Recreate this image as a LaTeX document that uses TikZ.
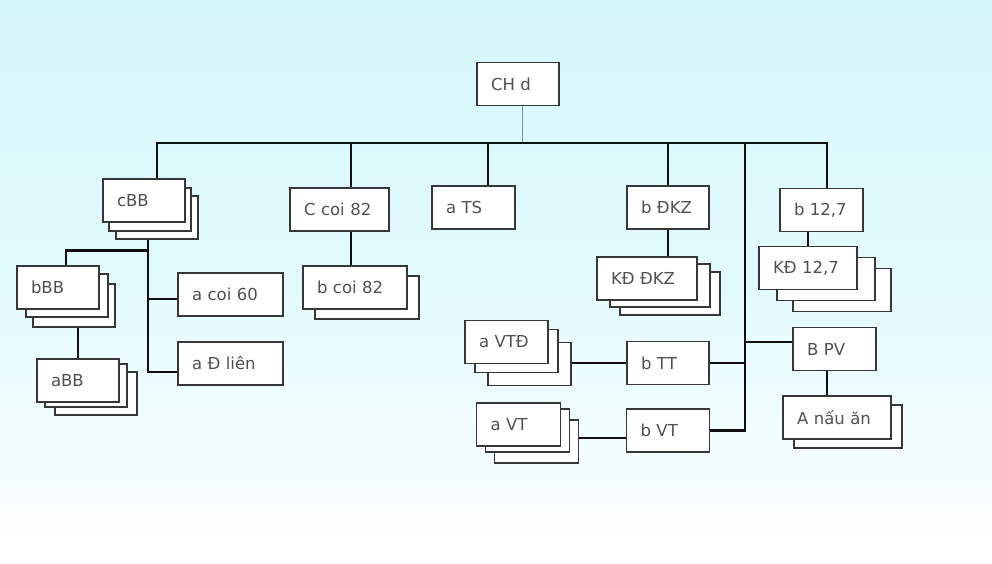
\documentclass[tikz,border=0pt]{standalone}
\usepackage{fontspec}
\newfontfamily\boxfont{DejaVu Sans}
\usetikzlibrary{positioning,shadows}
\definecolor{bgtop}{RGB}{212,247,251}
\definecolor{bgmid}{RGB}{226,250,253}
\definecolor{boxline}{RGB}{55,55,55}
\definecolor{boxtext}{RGB}{80,80,80}
\definecolor{linkcol}{RGB}{15,15,15}
\definecolor{stemcol}{RGB}{110,150,165}
\pgfdeclarelayer{back}
\pgfdeclarelayer{wires}
\pgfsetlayers{back,wires,main}
\begin{document}
\begin{tikzpicture}[x=1pt,y=1pt,
    pile/.style n args={4}{copy shadow={shadow xshift=#3,shadow yshift=#4,draw=boxline,fill=white,line width=1.4pt},
                           copy shadow={shadow xshift=#1,shadow yshift=#2,draw=boxline,fill=white,line width=1.4pt}},
    pair/.style 2 args={copy shadow={shadow xshift=#1,shadow yshift=#2,draw=boxline,fill=white,line width=1.4pt}}]
  \tikzstyle{box}=[draw=boxline,fill=white,line width=1.4pt,minimum height=43pt,inner xsep=14pt,
                   text width=54pt,align=left,text=boxtext,font=\boxfont\fontsize{16.5}{20}\selectfont]
  \tikzstyle{link}=[draw=linkcol,line width=2.8pt]
  \tikzstyle{stem}=[draw=stemcol,line width=1pt]
  \begin{pgfonlayer}{back}
    \shade[top color=bgtop,bottom color=white,middle color=bgmid] (0,0) rectangle (992,563);
  \end{pgfonlayer}
  \useasboundingbox (0,0) rectangle (992,563);

  \node[box]    (CHd) at (518,479)                 {CH d};
  \node[box,pile={6pt}{-9pt}{13pt}{-17pt}]     (cBB) at (144,362.5)          {cBB};
  \node[box,pile={9pt}{-8pt}{16pt}{-18pt}]     (bBB)[below of=cBB, node distance=87pt, xshift=-86pt]   {bBB};
  \node[box,pile={8pt}{-5pt}{18pt}{-13pt}]     (aBB)[below of=bBB, node distance=93pt, xshift=20pt]    {aBB};
  \node[box,text width=77pt]    (acoi)[below of=cBB, node distance=94pt, xshift=86.5pt]  {a coi 60};
  \node[box,text width=77pt]    (aDl)[below of=acoi, node distance=69pt]                 {a Đ liên};
  \node[box,text width=71pt]    (Ccoi) at (339.5,353.5)                                  {C coi 82};
  \node[box,text width=76pt,pair={12pt}{-10pt}]    (bcoi)[below of=Ccoi, node distance=78pt, xshift=15.5pt]  {b coi 82};
  \node[box,text width=55pt]    (aTS) at (473.5,355.5)                                   {a TS};
  \node[box]    (bDKZ) at (668,355.5)                                                    {b ĐKZ};
  \node[box,text width=72pt,pile={13pt}{-7pt}{23pt}{-15pt}]    (KDDKZ)[below of=bDKZ, node distance=71pt, xshift=-21pt]  {KĐ ĐKZ};
  \node[box]    (bTT)[below of=KDDKZ, node distance=84.5pt, xshift=21pt]                 {b TT};
  \node[box,text width=55pt]    (bVT)[below of=bTT, node distance=67.5pt]                {b VT};
  \node[box,text width=55pt,pile={10pt}{-9pt}{23pt}{-22pt}]    (aVTD)[left of=bTT, node distance=161.5pt, yshift=21pt]  {a VTĐ};
  \node[box,text width=56pt,pile={9pt}{-6pt}{18pt}{-17pt}]     (aVT)[left of=bVT, node distance=149.5pt, yshift=6pt]    {a VT};
  \node[box,text width=55pt]    (b127) at (821.5,353)                                    {b 12,7};
  \node[box,text width=70pt,pile={18pt}{-11pt}{34pt}{-22pt}]   (KD127)[below of=b127, node distance=58pt, xshift=-13.5pt] {KĐ 12,7};
  \node[box,text width=55pt]    (BPV)[below of=KD127, node distance=81pt, xshift=26.5pt]  {B PV};
  \node[box,text width=80pt,pair={11pt}{-9pt}]    (Anau)[below of=BPV, node distance=68.5pt, xshift=2.5pt]  {A nấu ăn};

  \begin{pgfonlayer}{wires}
    \coordinate (busL) at (157,420);
    \coordinate (busR) at (827,420);
    \coordinate (t6) at (745,420);
    \path ([xshift=4pt]CHd.south) coordinate (t0)
          ([xshift=4pt]cBB.south) coordinate (t1)
          ([xshift=11.5pt]Ccoi.north) coordinate (t2)
          ([xshift=14.5pt]aTS.north) coordinate (t3)
          ([yshift=7pt]BPV.west) coordinate (t7);
    \draw[stem] (t0) -- (t0 |- busL);
    \draw[link] ([xshift=13pt]cBB.north) |- (busR) -- (b127.north -| busR);
    \draw[link] (t2) -- (t2 |- busL);
    \draw[link] (t3) -- (t3 |- busL);
    \draw[link] (bDKZ.north) -- (bDKZ.north |- busL);
    \draw[link] (t6) |- (bVT.east);
    \draw[link] (bTT.east) -- (bTT.east -| t6);
    \draw[link] (t7) -- (t7 -| t6);
    \draw[link] (t1) |- ([yshift=-8.5pt]aDl.west);
    \draw[link] ([yshift=-4.5pt]acoi.west) -| (t1);
    \draw[link] (t1) ++(0,-28pt) -| ([xshift=8pt]bBB.north);
    \draw[link] (aBB.north |- bBB.south) -- (aBB.north);
    \draw[link] (t2 |- Ccoi.south) -- (t2 |- bcoi.north);
    \draw[link] (bDKZ.south) -- (bDKZ.south |- KDDKZ.north);
    \draw[link] (KD127.north |- b127.south) -- (KD127.north);
    \draw[link] (busR |- BPV.south) -- (busR |- Anau.north);
    \draw[link] (bTT.west) -- (bTT.west -| aVTD.east);
    \draw[link] ([yshift=-7.5pt]bVT.west) -- ++(-55pt,0);
  \end{pgfonlayer}
\end{tikzpicture}
\end{document}
